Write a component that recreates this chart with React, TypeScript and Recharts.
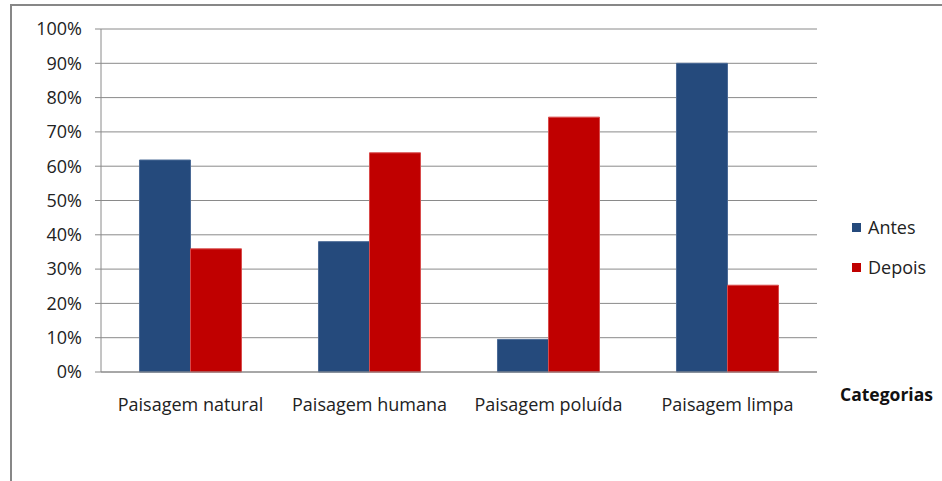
import React from "react";
import { BarChart, Bar, XAxis, YAxis, CartesianGrid, Legend, Label } from "recharts";

const categories = ["Paisagem natural", "Paisagem humana", "Paisagem poluída", "Paisagem limpa"];
const antes = [61.8, 38, 9.5, 90];
const depois = [35.9, 63.9, 74.3, 25.3];
const yTicks = [0, 10, 20, 30, 40, 50, 60, 70, 80, 90, 100];
const boundaryTicks = [0, 1, 2, 3, 4];
const seriesNames = ["Antes", "Depois"];
const seriesColors = ["#254a7c", "#c00000"];

const data = categories.map((c, i) => ({ name: c, Antes: antes[i], Depois: depois[i] }));

const FONT = "'Open Sans', sans-serif";

const LegendContent = () => (
  <div style={{ position: "relative", height: 0, overflow: "visible" }}>
    <div style={{ position: "absolute", left: 0, top: 0, fontFamily: FONT, fontSize: 18, color: "#222", width: 90 }}>
      {seriesNames.map((n, i) => (
        <div key={n} style={{ display: "flex", alignItems: "center", height: 40 }}>
          <span style={{ display: "inline-block", width: 9, height: 9, background: seriesColors[i], marginRight: 7 }} />
          <span>{n}</span>
        </div>
      ))}
    </div>
  </div>
);

export default function App() {
  return (
    <div style={{ position: "absolute", left: 0, top: 0, width: 942, height: 481, overflow: "hidden", background: "#fff" }}>
      <div style={{ position: "absolute", left: 10, top: 4, width: 1200, height: 1200, border: "2px solid #878787" }} />
      <div style={{ position: "absolute", left: 0, top: 0 }}>
        <BarChart
          width={942}
          height={481}
          data={data}
          margin={{ top: 29, right: 125, left: 0, bottom: 63 }}
          barCategoryGap="21.5%"
          barGap={0}
        >
          <CartesianGrid vertical={false} stroke="#8a8a8a" />
          <XAxis
            xAxisId="grid"
            type="number"
            domain={[0, 4]}
            ticks={boundaryTicks}
            tick={false}
            tickSize={6}
            height={0}
            axisLine={false}
            stroke="#8a8a8a"
          />
          <XAxis
            xAxisId="cat"
            dataKey="name"
            type="category"
            height={46}
            tickLine={false}
            tickSize={6}
            tickMargin={20}
            axisLine={{ stroke: "#8a8a8a" }}
            tick={{ fill: "#222", fontSize: 18, fontFamily: FONT }}
          >
            <Label
              value="Categorias"
              position="right"
              offset={23}
              style={{ fontFamily: FONT, fontSize: 17.5, fontWeight: "bold", fill: "#111" }}
            />
          </XAxis>
          <YAxis
            domain={[0, 100]}
            ticks={yTicks}
            width={101}
            tickSize={6}
            tickMargin={13}
            stroke="#8a8a8a"
            tickFormatter={(v: number) => `${v}%`}
            tick={{ fill: "#222", fontSize: 18, fontFamily: FONT }}
            interval={0}
          />
          <Legend
            layout="vertical"
            content={<LegendContent />}
            wrapperStyle={{ position: "absolute", left: 852, top: 207, width: 90 }}
          />
          <Bar xAxisId="cat" dataKey="Antes" fill={seriesColors[0]} stroke="#4a6a96" strokeWidth={1} isAnimationActive={false} />
          <Bar xAxisId="cat" dataKey="Depois" fill={seriesColors[1]} stroke="#d84a4a" strokeWidth={1} isAnimationActive={false} />
        </BarChart>
      </div>
    </div>
  );
}
